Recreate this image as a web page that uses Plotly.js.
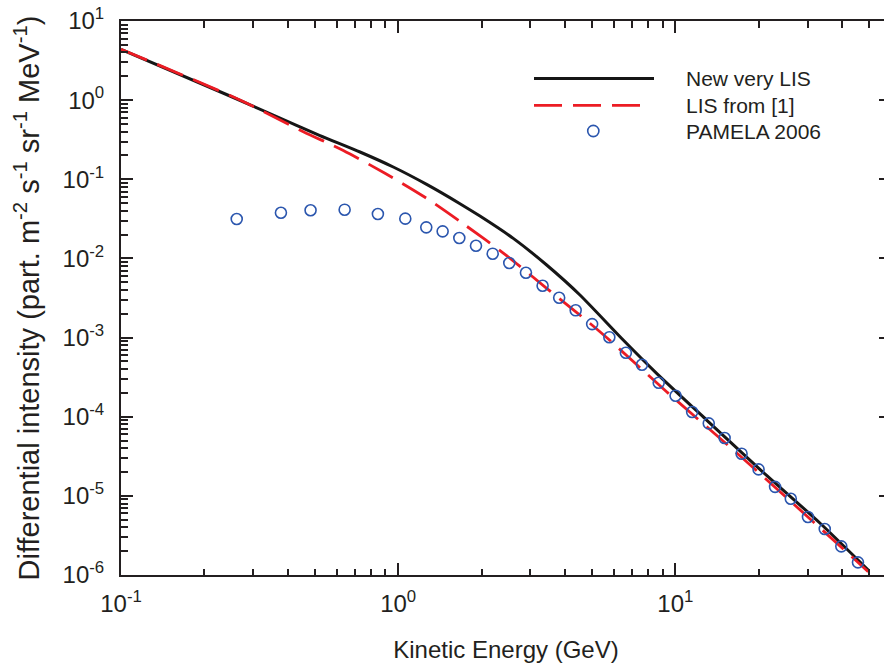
<!DOCTYPE html>
<html>
<head>
<meta charset="utf-8">
<script src="https://cdn.plot.ly/plotly-3.0.1.min.js"></script>
<style>
  html, body { margin: 0; padding: 0; background: #ffffff; overflow: hidden; }
  #chart { width: 891px; height: 671px; }
</style>
</head>
<body>
<div id="chart"></div>
<script>
// ---- Data ----
const newLisE = [0.1, 0.2472, 0.3542, 0.5222, 0.7283, 0.960, 1.2672, 1.671, 1.973, 2.602, 3.434, 4.528, 6.486, 8.56, 12.97, 20.19, 33.23, 49.66];
const newLisI = [4.39, 1.128, 0.649, 0.3573, 0.2212, 0.1429, 0.08615, 0.04913, 0.03425, 0.01791, 0.00826, 0.00345, 0.000931, 0.0003535, 0.0000908, 0.0000216, 0.00000454, 0.000001156];

const oldLisE = [0.1, 0.2687, 0.4546, 0.634, 0.8962, 1.2495, 1.742, 2.428, 3.434, 5.346, 9.30, 18.08, 49.66];
const oldLisI = [4.39, 1.004, 0.3995, 0.2311, 0.119, 0.05922, 0.02645, 0.01127, 0.004192, 0.001186, 0.000207, 0.000027, 0.0000011];

const pamelaE = [0.2615, 0.3776, 0.483, 0.641, 0.845, 1.061, 1.263, 1.447, 1.662, 1.909, 2.193, 2.517, 2.891, 3.32, 3.81, 4.37, 5.01, 5.78, 6.63, 7.58, 8.71, 10.02, 11.5, 13.2, 15.06, 17.34, 19.97, 22.9, 26.1, 30.1, 34.6, 39.7, 45.6];
const pamelaI = [0.0315, 0.0378, 0.0406, 0.0413, 0.0364, 0.0318, 0.0247, 0.022, 0.0181, 0.01448, 0.01148, 0.00875, 0.0066, 0.00452, 0.00319, 0.00221, 0.00148, 0.00101, 0.000644, 0.000454, 0.000269, 0.000184, 0.0001146, 0.0000825, 0.0000538, 0.0000341, 0.0000216, 0.000013, 0.0000092, 0.0000054, 0.00000381, 0.0000023, 0.000001445];

const seriesNames = ["New very LIS", "LIS from [1]", "PAMELA 2006"];

const xTickVals = [0.1, 1, 10];
const xTickText = ["10<sup>-1</sup>", "10<sup>0</sup>", "10<sup>1</sup>"];
const yTickVals = [1e-6, 1e-5, 1e-4, 1e-3, 1e-2, 1e-1, 1, 10];
const yTickText = ["10<sup>-6</sup>", "10<sup>-5</sup>", "10<sup>-4</sup>", "10<sup>-3</sup>", "10<sup>-2</sup>", "10<sup>-1</sup>", "10<sup>0</sup>", "10<sup>1</sup>"];

const xTitle = "Kinetic Energy (GeV)";
const yTitle = "Differential intensity (part. m<sup>-2</sup> s<sup>-1</sup> sr<sup>-1</sup> MeV<sup>-1</sup>)";

// ---- Styles ----
const INK = "#231f20";
const BLACK = "#161616";
const RED = "#ec1c24";
const BLUE = "#2b56ae";
const FONT = "Liberation Sans, Arial, Helvetica, sans-serif";

// minor tick positions (2..9 in each decade)
function minorTicks(lo, hi) {
  const out = [];
  for (let d = lo; d < hi; d++) {
    for (let m = 2; m <= 9; m++) out.push(m * Math.pow(10, d));
  }
  return out;
}

const traces = [
  {
    x: newLisE, y: newLisI, name: seriesNames[0], type: "scatter", mode: "lines",
    line: { color: BLACK, width: 3, shape: "spline", smoothing: 0.6 },
    showlegend: false, hoverinfo: "skip"
  },
  {
    x: oldLisE, y: oldLisI, name: seriesNames[1], type: "scatter", mode: "lines",
    line: { color: RED, width: 2.8, dash: "28px,11px", shape: "spline", smoothing: 0.8 },
    showlegend: false, hoverinfo: "skip"
  },
  {
    x: pamelaE, y: pamelaI, name: seriesNames[2], type: "scatter", mode: "markers",
    marker: { symbol: "circle-open", size: 11, color: BLUE, line: { color: BLUE, width: 1.6 } },
    showlegend: false, hoverinfo: "skip"
  }
];

// manual legend (paper coords; plot area 121..891 x 21..575 px)
const PL = 121, PW = 770, PT = 21, PH = 554;
const px = v => (v - PL) / PW;
const py = v => (PT + PH - v) / PH;

const shapes = [
  { type: "line", xref: "paper", yref: "paper", x0: px(534), x1: px(654), y0: py(78.5), y1: py(78.5),
    line: { color: BLACK, width: 3 } },
  { type: "line", xref: "paper", yref: "paper", x0: px(534), x1: px(645), y0: py(105.3), y1: py(105.3),
    line: { color: RED, width: 2.8, dash: "28px,11px" } },
  { type: "circle", xref: "paper", yref: "paper", x0: px(593.3 - 5.6), x1: px(593.3 + 5.6), y0: py(131 + 5.6), y1: py(131 - 5.6),
    line: { color: BLUE, width: 1.6 } }
];

const annotations = seriesNames.map((n, i) => ({
  text: n, xref: "paper", yref: "paper", x: px(684), y: py([78.5, 105.3, 131.5][i]),
  xanchor: "left", yanchor: "middle", showarrow: false,
  font: { family: FONT, size: 21, color: INK }
}));

const layout = {
  width: 891, height: 671,
  margin: { l: PL, r: 0, t: PT, b: 671 - PT - PH },
  paper_bgcolor: "#ffffff", plot_bgcolor: "#ffffff",
  font: { family: FONT, color: INK, size: 23 },
  showlegend: false,
  xaxis: {
    type: "log", range: [-1, Math.log10(60)],
    tickmode: "array", tickvals: xTickVals, ticktext: xTickText,
    ticks: "inside", ticklen: 12, tickwidth: 2, tickcolor: INK,
    showline: true, linewidth: 2, linecolor: INK, mirror: "ticks",
    showgrid: false, zeroline: false,
    tickfont: { family: FONT, size: 24, color: INK },
    ticklabelstandoff: 6,
    minor: { tickmode: "array", tickvals: minorTicks(-1, 2), ticks: "inside", ticklen: 6.5, tickwidth: 2, tickcolor: INK, showgrid: false },
    title: { text: xTitle, font: { family: FONT, size: 24, color: INK }, standoff: 25 }
  },
  yaxis: {
    type: "log", range: [-6, 1],
    tickmode: "array", tickvals: yTickVals, ticktext: yTickText,
    ticks: "inside", ticklen: 12, tickwidth: 2, tickcolor: INK,
    showline: true, linewidth: 2, linecolor: INK, mirror: "ticks",
    showgrid: false, zeroline: false,
    tickfont: { family: FONT, size: 24, color: INK },
    ticklabelstandoff: 10,
    minor: { tickmode: "array", tickvals: minorTicks(-6, 1), ticks: "inside", ticklen: 6.5, tickwidth: 2, tickcolor: INK, showgrid: false },
    title: { text: yTitle, font: { family: FONT, size: 29, color: INK }, standoff: 14 }
  },
  shapes: shapes,
  annotations: annotations
};

Plotly.newPlot("chart", traces, layout, { displayModeBar: false, staticPlot: true });
</script>
</body>
</html>
